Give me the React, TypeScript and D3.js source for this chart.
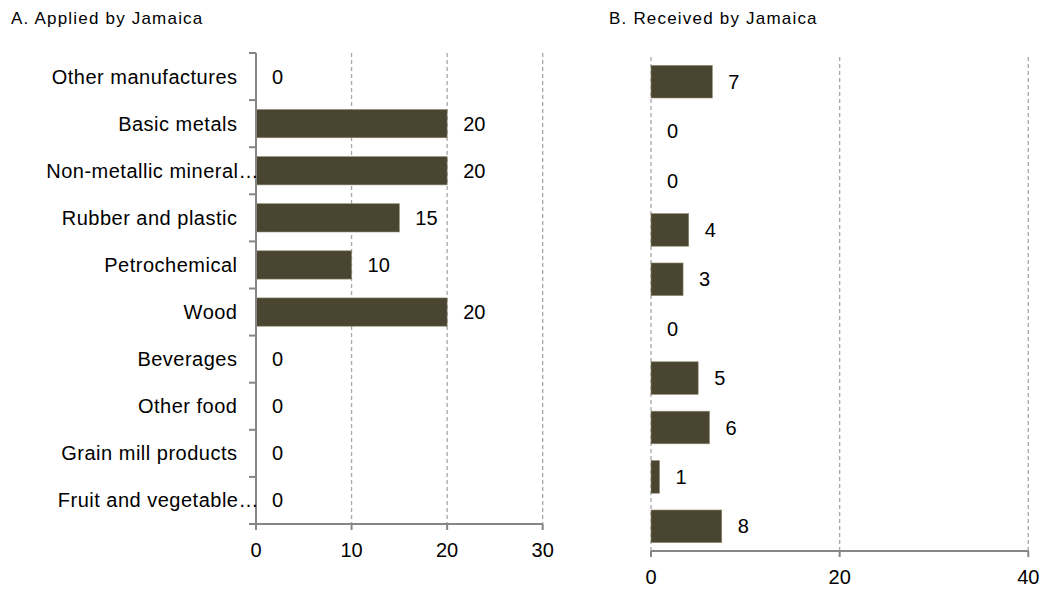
import { useEffect, useRef } from "react"
import * as d3 from "d3"

const categories = [
  "Other manufactures",
  "Basic metals",
  "Non-metallic mineral…",
  "Rubber and plastic",
  "Petrochemical",
  "Wood",
  "Beverages",
  "Other food",
  "Grain mill products",
  "Fruit and vegetable…",
]
const appliedValues = [0, 20, 20, 15, 10, 20, 0, 0, 0, 0]
const receivedValues = [6.5, 0, 0, 4.0, 3.4, 0, 5.0, 6.2, 0.9, 7.5]
const appliedTicks = [0, 10, 20, 30]
const receivedTicks = [0, 20, 40]

const BAR = "#4a4530"
const AXIS = "#868686"
const GRID = "#a6a6a6"
const FONT = "'Liberation Sans', Arial, sans-serif"

export default function App() {
  const svgRef = useRef<SVGSVGElement>(null)

  useEffect(() => {
    if (!svgRef.current) return
    const svg = d3.select(svgRef.current)
    svg.selectAll("*").remove()

    type Panel = {
      title: string
      titleX: number
      values: number[]
      ticks: number[]
      x: [number, number]
      y: [number, number]
      padding: number
      solidYAxis: boolean
      showLabels: boolean
    }

    const panels: Panel[] = [
      {
        title: "A. Applied by Jamaica",
        titleX: 11,
        values: appliedValues,
        ticks: appliedTicks,
        x: [256, 542.7],
        y: [53, 524],
        padding: 0.4,
        solidYAxis: true,
        showLabels: true,
      },
      {
        title: "B. Received by Jamaica",
        titleX: 609,
        values: receivedValues,
        ticks: receivedTicks,
        x: [651, 1028.3],
        y: [57, 551],
        padding: 0.34,
        solidYAxis: false,
        showLabels: false,
      },
    ]

    panels.forEach((p) => {
      const maxTick = p.ticks[p.ticks.length - 1]
      const xScale = d3.scaleLinear().domain([0, maxTick]).range(p.x)
      // * inner/outer padding chosen so bar centres sit on the category band centres
      const yScale = d3
        .scaleBand<string>()
        .domain(categories)
        .range(p.y)
        .paddingInner(p.padding)
        .paddingOuter(p.padding / 2)
      const yEdges = d3.scaleBand<string>().domain(categories).range(p.y).padding(0)
      const g = svg.append("g")

      // * Title
      svg
        .append("text")
        .attr("x", p.titleX)
        .attr("y", 24)
        .attr("font-size", "17px")
        .attr("letter-spacing", "1.2px")
        .attr("fill", "#000")
        .text(p.title)

      // * Dashed gridlines
      p.ticks
        .filter((t) => !(p.solidYAxis && t === 0))
        .forEach((t) => {
          g.append("line")
            .attr("x1", xScale(t))
            .attr("x2", xScale(t))
            .attr("y1", p.y[0])
            .attr("y2", p.y[1])
            .attr("stroke", GRID)
            .attr("stroke-width", 1.3)
            .attr("stroke-dasharray", "4,3")
        })

      // * Bars
      categories.forEach((c, i) => {
        const v = p.values[i]
        if (v > 0) {
          g.append("rect")
            .attr("x", xScale(0))
            .attr("y", yScale(c)!)
            .attr("width", xScale(v) - xScale(0))
            .attr("height", yScale.bandwidth())
            .attr("fill", BAR)
            .attr("stroke", "#8c8870")
            .attr("stroke-width", 0.6)
        }
        g.append("text")
          .attr("x", xScale(v) + 16)
          .attr("y", yScale(c)! + yScale.bandwidth() / 2)
          .attr("dominant-baseline", "central")
          .attr("font-size", "20px")
          .attr("fill", "#000")
          .text(Math.round(v))
      })

      // * Y axis
      if (p.solidYAxis) {
        g.append("line")
          .attr("x1", xScale(0))
          .attr("x2", xScale(0))
          .attr("y1", p.y[0])
          .attr("y2", p.y[1])
          .attr("stroke", AXIS)
          .attr("stroke-width", 2)
        const edges = categories.map((c) => yEdges(c)!).concat([p.y[1]])
        edges.forEach((e) => {
          g.append("line")
            .attr("x1", xScale(0) - 7)
            .attr("x2", xScale(0))
            .attr("y1", e)
            .attr("y2", e)
            .attr("stroke", AXIS)
            .attr("stroke-width", 2)
        })
      }

      // * Category labels
      if (p.showLabels) {
        categories.forEach((c) => {
          const truncated = c.endsWith("…")
          g.append("text")
            .attr("x", truncated ? xScale(0) + 3 : xScale(0) - 18.5)
            .attr("y", yEdges(c)! + yEdges.bandwidth() / 2)
            .attr("text-anchor", "end")
            .attr("dominant-baseline", "central")
            .attr("font-size", "20px")
            .attr("letter-spacing", "0.5px")
            .attr("fill", "#000")
            .text(c)
        })
      }

      // * X axis
      g.append("line")
        .attr("x1", p.x[0])
        .attr("x2", p.x[1])
        .attr("y1", p.y[1])
        .attr("y2", p.y[1])
        .attr("stroke", AXIS)
        .attr("stroke-width", 2)
      p.ticks.forEach((t) => {
        g.append("line")
          .attr("x1", xScale(t))
          .attr("x2", xScale(t))
          .attr("y1", p.y[1])
          .attr("y2", p.y[1] + 6)
          .attr("stroke", AXIS)
          .attr("stroke-width", 2)
        g.append("text")
          .attr("x", xScale(t))
          .attr("y", p.y[1] + 33)
          .attr("text-anchor", "middle")
          .attr("font-size", "20px")
          .attr("fill", "#000")
          .text(t)
      })
    })
  }, [])

  return (
    <svg
      ref={svgRef}
      width={1044}
      height={589}
      style={{ position: "absolute", left: 0, top: 0, background: "#fff", fontFamily: FONT }}
    />
  )
}
